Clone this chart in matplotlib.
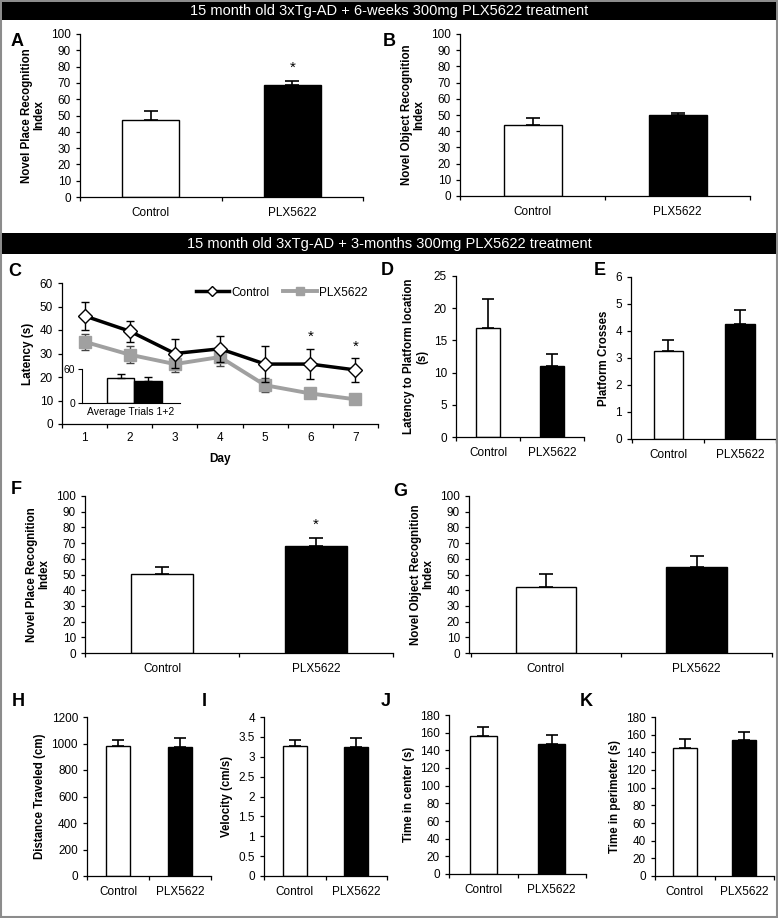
import matplotlib
matplotlib.use('Agg')
import matplotlib.pyplot as plt
from matplotlib.patches import Rectangle
from matplotlib.ticker import FuncFormatter

plt.rcParams['font.family'] = ['Liberation Sans', 'DejaVu Sans']

# ---- data ----
groups = ['Control', 'PLX5622']

a_vals = [47.5, 68.5]
a_err = [5, 2.5]
b_vals = [44, 50]
b_err = [4, 1.5]

days = [1, 2, 3, 4, 5, 6, 7]
c_ctrl = [46, 39.5, 30, 32, 25.5, 25.5, 23]
c_ctrl_err = [6, 4.5, 6, 5.5, 7.5, 6.5, 5]
c_plx = [35, 29.5, 25.5, 28.5, 16.5, 13, 10.5]
c_plx_err = [3.5, 3.7, 3.5, 4, 3, 2, 1.2]
c_star_days = [6, 7]
c_star_y = [37, 33]
inset_vals = [44, 38.5]
inset_err = [7, 7]

d_vals = [17, 11]
d_err = [4.5, 1.9]
e_vals = [3.25, 4.25]
e_err = [0.4, 0.53]
f_vals = [50.5, 68]
f_err = [4, 5.5]
g_vals = [42, 55]
g_err = [8.5, 7]
h_vals = [980, 970]
h_err = [50, 70]
i_vals = [3.28, 3.25]
i_err = [0.15, 0.23]
j_vals = [156, 147]
j_err = [10, 10]
k_vals = [145, 154]
k_err = [10, 9]

banner1 = '15 month old 3xTg-AD + 6-weeks 300mg PLX5622 treatment'
banner2 = '15 month old 3xTg-AD + 3-months 300mg PLX5622 treatment'

W, H = 778, 918
fig = plt.figure(figsize=(W / 100, H / 100), dpi=100)


def box(x0, y0, x1, y1):
    # pixel box -> figure axes
    return fig.add_axes([x0 / W, 1 - y1 / H, (x1 - x0) / W, (y1 - y0) / H])


def fig_text(x, y, s, **kw):
    fig.text(x / W, 1 - y / H, s, **kw)


def style(ax, xlim, ylim, yticks, cats):
    for s in ['top', 'right']:
        ax.spines[s].set_visible(False)
    for s in ['left', 'bottom']:
        ax.spines[s].set_linewidth(0.9)
    ax.set_xlim(*xlim)
    ax.set_ylim(*ylim)
    ax.set_yticks(yticks)
    ax.yaxis.set_major_formatter(FuncFormatter(lambda v, p: '%g' % v))
    bounds = [c - 0.5 for c in cats] + [cats[-1] + 0.5]
    ax.set_xticks(bounds)
    ax.set_xticklabels([])
    ax.set_xticks(cats, minor=True)
    ax.tick_params(which='major', direction='out', length=3, width=0.9, labelsize=8.5)
    ax.tick_params(axis='x', which='minor', length=0, labelsize=8.5, pad=7)


def bar_panel(box_px, vals, errs, ymax, step, ylabel, xlim=(-0.5, 1.5), width=0.4,
              star=False, star_off=8, cap=5):
    ax = box(*box_px)
    ax.bar([0, 1], vals, width, color=['white', 'black'], edgecolor='black',
           linewidth=1, zorder=2)
    ax.errorbar([0, 1], vals, yerr=[[0, 0], errs], fmt='none', ecolor='black',
                elinewidth=1.2, capsize=cap, capthick=1.2, zorder=3)
    ticks = [i * step for i in range(int(round(ymax / step)) + 1)]
    style(ax, xlim, (0, ymax), ticks, [0, 1])
    ax.set_xticklabels(groups, minor=True)
    ax.set_ylabel(ylabel, fontsize=8.3, fontweight='bold', labelpad=4, linespacing=1.1)
    if star:
        ax.text(1, vals[1] + errs[1] + star_off, '*', ha='center', va='center', fontsize=11)
    return ax


# ---- frame and banners ----
fig.patches.append(Rectangle((1 / W, 1 / H), 776 / W, 916 / H, transform=fig.transFigure,
                             fill=False, edgecolor='#8c8c8c', linewidth=1.5))
fig.patches.append(Rectangle((2 / W, 1 - 20 / H), 774 / W, 18 / H, transform=fig.transFigure,
                             facecolor='black', edgecolor='none'))
fig.patches.append(Rectangle((2 / W, 1 - 254 / H), 774 / W, 21 / H, transform=fig.transFigure,
                             facecolor='black', edgecolor='none'))
fig_text(389, 11, banner1, color='white', fontsize=10.5, ha='center', va='center')
fig_text(389, 244, banner2, color='white', fontsize=10.5, ha='center', va='center')

# ---- A, B ----
bar_panel((80, 34, 363, 197), a_vals, a_err, 100, 10,
          'Novel Place Recognition\nIndex', star=True)
bar_panel((460, 34, 750, 196), b_vals, b_err, 100, 10,
          'Novel Object Recognition\nIndex')

# ---- C ----
axc = box(62, 283, 378, 424)
axc.errorbar(days, c_plx, yerr=c_plx_err, fmt='none', ecolor='#444444',
             elinewidth=1, capsize=3, capthick=1, zorder=2)
axc.errorbar(days, c_ctrl, yerr=c_ctrl_err, fmt='none', ecolor='black',
             elinewidth=1, capsize=3, capthick=1, zorder=4)
lp, = axc.plot(days, c_plx, color='#a0a0a0', lw=2.8, marker='s', ms=8,
               mfc='#a0a0a0', mec='#a0a0a0', zorder=3, label='PLX5622')
lc, = axc.plot(days, c_ctrl, color='black', lw=2.5, marker='D', ms=7,
               mfc='white', mec='black', mew=1, zorder=5, label='Control')
for d, y in zip(c_star_days, c_star_y):
    axc.text(d, y, '*', ha='center', va='center', fontsize=11)
style(axc, (0.5, 7.5), (0, 60), list(range(0, 61, 10)), days)
axc.set_xticklabels([str(d) for d in days], minor=True)
axc.tick_params(axis='x', which='minor', pad=6)
axc.set_ylabel('Latency (s)', fontsize=8.5, fontweight='bold', labelpad=4)
axc.set_xlabel('Day', fontsize=8.5, fontweight='bold', labelpad=6)
axc.legend(handles=[lc, lp], loc='upper right', ncol=2, frameon=False, fontsize=8.5,
           handlelength=2.8, columnspacing=1.2, handletextpad=0.2, markerscale=0.8,
           bbox_to_anchor=(1.0, 1.05))

# inset: average trials 1+2
axi = box(82, 369, 180, 403)
axi.set_facecolor('none')
axi.bar([0, 1], inset_vals, 1.0, color=['white', 'black'], edgecolor='black', linewidth=1)
axi.errorbar([0, 1], inset_vals, yerr=[[0, 0], inset_err], fmt='none', ecolor='black',
             elinewidth=1, capsize=3, capthick=1)
axi.set_xlim(-1.4, 2.16)
axi.set_ylim(0, 60)
axi.set_yticks([0, 60])
axi.set_xticks([])
for s in ['top', 'right']:
    axi.spines[s].set_visible(False)
axi.tick_params(direction='out', length=3, labelsize=7.5, pad=2)
axi.set_xlabel('Average Trials 1+2', fontsize=7.5, labelpad=3)

# ---- D, E ----
bar_panel((456, 276, 584, 437), d_vals, d_err, 25, 5,
          'Latency to Platform location\n(s)', width=0.39, cap=4)
bar_panel((631, 277, 776, 439), e_vals, e_err, 6, 1,
          'Platform Crosses', xlim=(-0.52, 1.46), width=0.41, cap=4)

# ---- F, G ----
bar_panel((85, 496, 393, 653), f_vals, f_err, 100, 10,
          'Novel Place Recognition\nIndex', star=True, star_off=8)
bar_panel((469, 496, 772, 653), g_vals, g_err, 100, 10,
          'Novel Object Recognition\nIndex', xlim=(-0.51, 1.44))

# ---- H - K ----
bar_panel((87, 717, 211, 876), h_vals, h_err, 1200, 200,
          'Distance Traveled (cm)', width=0.39, cap=4)
bar_panel((264, 717, 387, 876), i_vals, i_err, 4, 0.5,
          'Velocity (cm/s)', width=0.39, cap=4)
bar_panel((449, 715, 586, 874), j_vals, j_err, 180, 20,
          'Time in center (s)', width=0.39, cap=4)
bar_panel((655, 717, 774, 876), k_vals, k_err, 180, 20,
          'Time in perimeter (s)', width=0.4, cap=4)

# ---- panel letters ----
letters = {'A': (17, 41), 'B': (389, 41), 'C': (15, 272), 'D': (387, 270),
           'E': (600, 270), 'F': (16, 490), 'G': (400, 492), 'H': (18, 702),
           'I': (204, 702), 'J': (386, 702), 'K': (586, 702)}
for k, (x, y) in letters.items():
    fig_text(x, y, k, fontsize=13, fontweight='bold', ha='center', va='center')

fig.savefig('out.png', dpi=100)
